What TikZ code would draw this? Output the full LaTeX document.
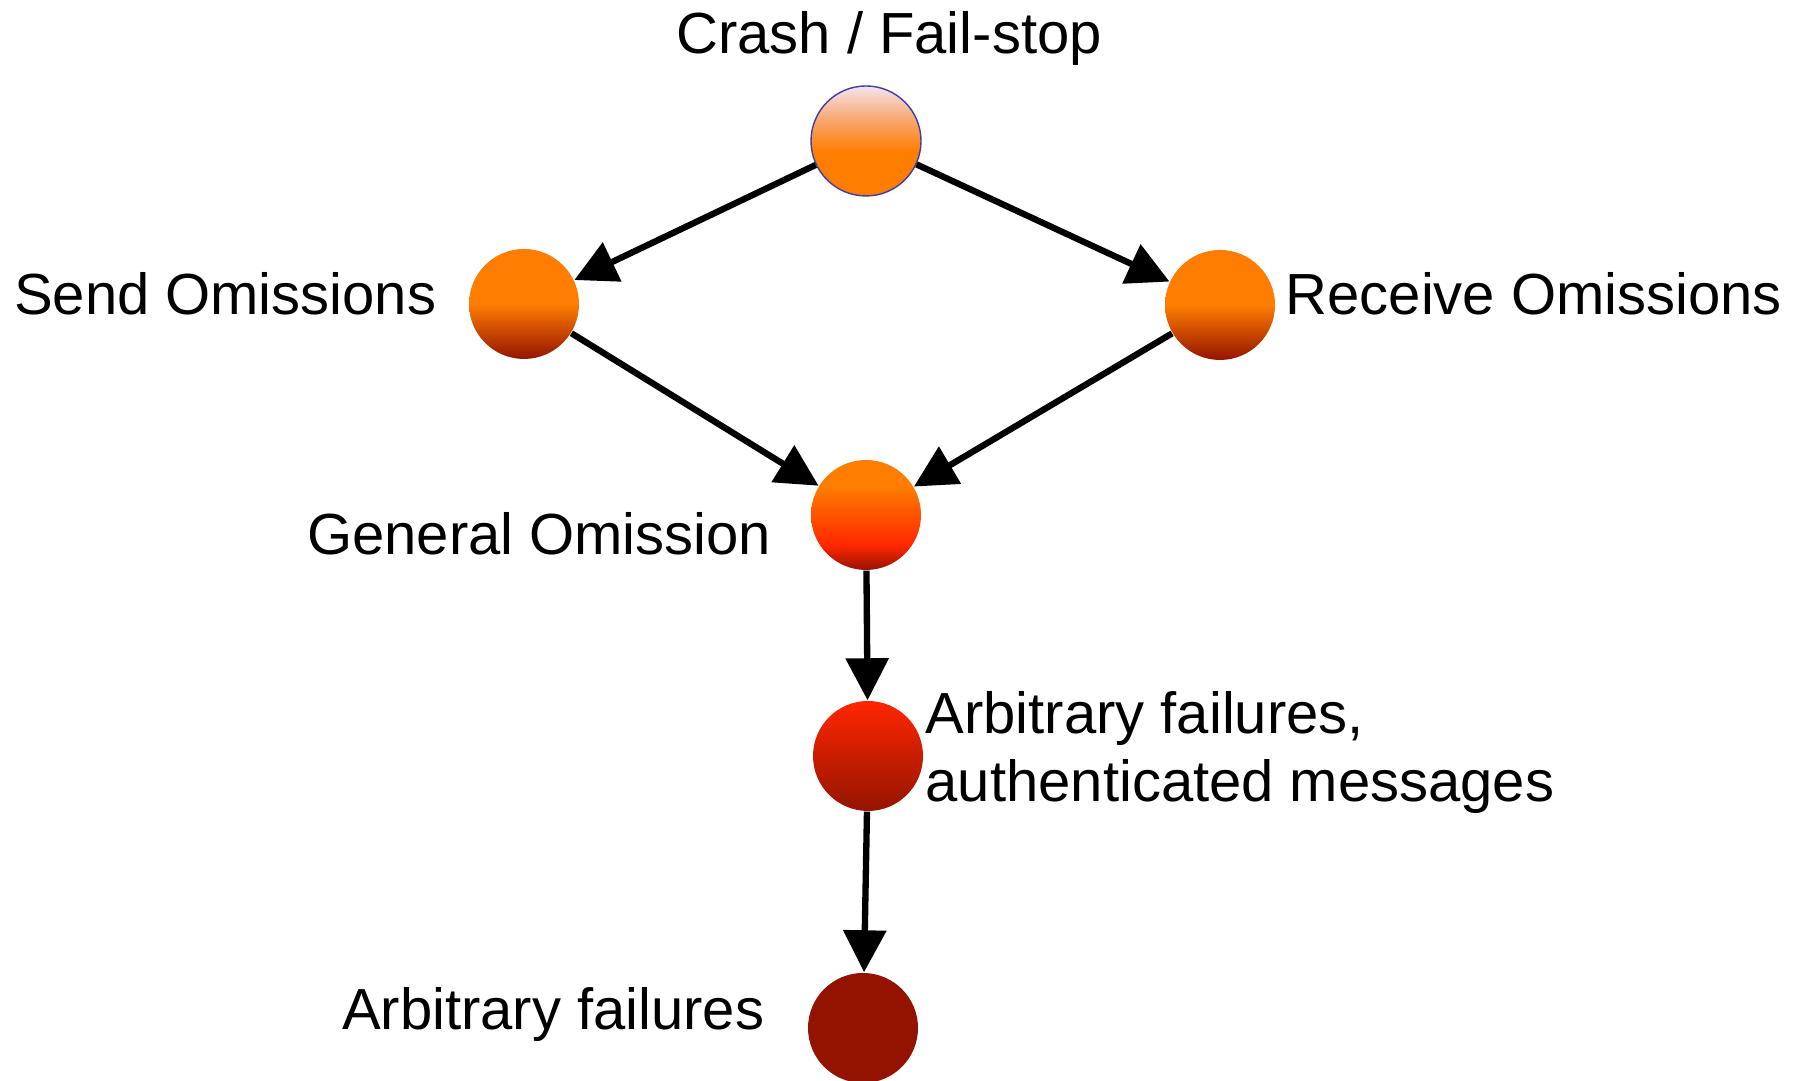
\documentclass[tikz,border=0pt]{standalone}
\usepackage{fontspec}
\setmainfont{Liberation Sans}
\usetikzlibrary{arrows.meta}

\definecolor{failorange}{RGB}{255,125,0}
\definecolor{failpale}{RGB}{242,228,238}
\definecolor{failpeach}{RGB}{249,168,112}
\definecolor{failred}{RGB}{255,38,0}
\definecolor{faildark}{RGB}{148,20,0}
\definecolor{failmaroon}{RGB}{147,18,0}
\definecolor{failblue}{RGB}{60,62,170}

\pgfdeclareverticalshading{crashshade}{100bp}{color(0bp)=(failorange); color(45bp)=(failorange); color(60bp)=(failpeach); color(75bp)=(failpale); color(100bp)=(failpale)}
\pgfdeclareverticalshading{omitshade}{100bp}{color(0bp)=(faildark); color(25bp)=(faildark); color(50bp)=(failorange); color(100bp)=(failorange)}
\pgfdeclareverticalshading{generalshade}{100bp}{color(0bp)=(faildark); color(25bp)=(faildark); color(36bp)=(failred); color(63bp)=(failorange); color(100bp)=(failorange)}
\pgfdeclareverticalshading{authshade}{100bp}{color(0bp)=(faildark); color(25bp)=(faildark); color(75bp)=(failred); color(100bp)=(failred)}

\tikzset{
	ball/.style={circle, minimum size=1.1cm, inner sep=0pt},
	lbl/.style={font=\fontsize{16.5pt}{19.4pt}\selectfont, inner sep=0pt},
	edge/.style={line width=1.8pt, -{Triangle[length=0.42cm, width=0.42cm]}}
}

\begin{document}
\begin{tikzpicture}
			%%%%% START %%%%%
			\useasboundingbox (0, 0) rectangle (18.04, 10.81);
			
			\node[ball, shading=crashshade, draw=failblue, line width=0.4pt] (crash) at (8.66, 9.40) {};
			\node[ball, shading=omitshade] (send) at (5.24, 7.77) {};
			\node[ball, shading=omitshade] (recv) at (12.20, 7.76) {};
			\node[ball, shading=generalshade] (general) at (8.66, 5.66) {};
			\node[ball, shading=authshade] (auth) at (8.68, 3.25) {};
			\node[ball, fill=failmaroon] (arb) at (8.63, 0.53) {};
			
			\node[lbl, anchor=base] (crashlbl) at (8.89, 10.27) {Crash / Fail-stop};
			\node[lbl, anchor=base east] (sendlbl) at (4.37, 7.66) {Send Omissions};
			\node[lbl, anchor=base west] (recvlbl) at (12.85, 7.66) {Receive Omissions};
			\node[lbl, anchor=base east] (generallbl) at (7.72, 5.26) {General Omission};
			\node[lbl, anchor=base west, align=left] (authlbl) at (9.25, 2.79) {Arbitrary failures,\\authenticated messages};
			\node[lbl, anchor=base east] (arblbl) at (7.65, 0.51) {Arbitrary failures};
			
			\draw[edge] (crash) -- (send);
			\draw[edge] (crash) -- (recv);
			\draw[edge] (send) -- (general);
			\draw[edge] (recv) -- (general);
			\draw[edge] (general) -- (auth);
			\draw[edge] (auth) -- (arb);
			
			%%%%% END %%%%%
		\end{tikzpicture}
\end{document}
